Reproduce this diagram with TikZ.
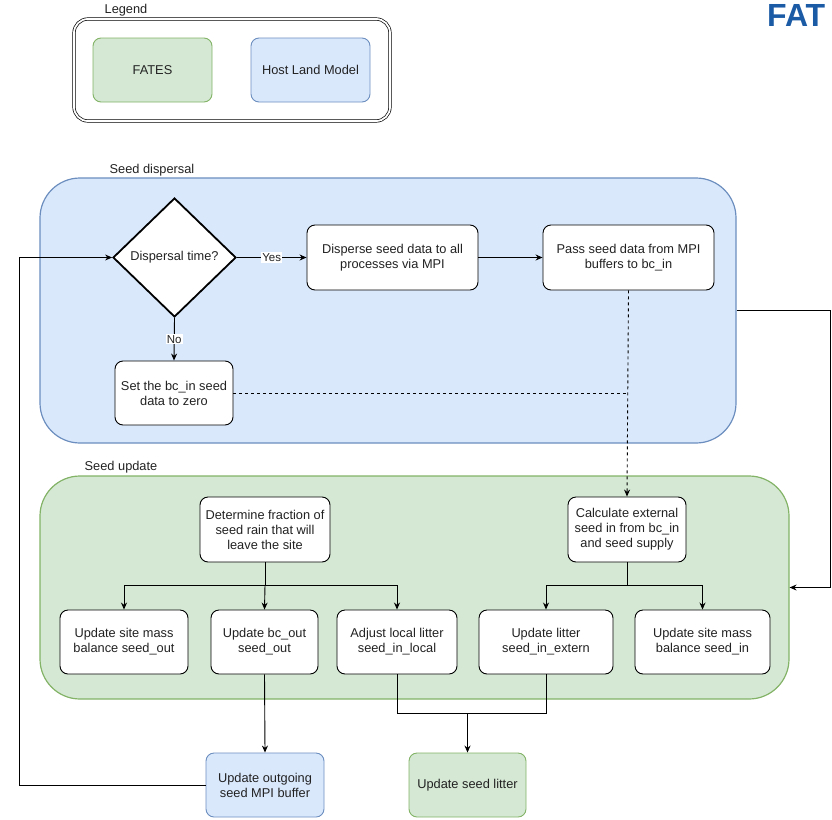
\documentclass[tikz,border=0pt]{standalone}
\usepackage{fontspec}
\setmainfont{Liberation Sans}
\usetikzlibrary{shapes.geometric,arrows.meta}
\definecolor{gfill}{HTML}{D5E8D4}
\definecolor{gline}{HTML}{82B366}
\definecolor{bfill}{HTML}{DAE8FC}
\definecolor{bline}{HTML}{6C8EBF}
\definecolor{fatesblue}{HTML}{1B5AA5}
\definecolor{txt}{HTML}{222222}
\begin{document}
\begin{tikzpicture}[x=1pt,y=-1pt,
  font=\fontsize{12.8}{15}\selectfont, text=txt,
  box/.style={draw=black, rounded corners=8pt, fill=white, align=center, line width=0.9pt, inner sep=0pt, minimum height=64pt},
  gbox/.style={box, draw=gline, fill=gfill},
  bbox/.style={box, draw=bline, fill=bfill},
  cont/.style={rounded corners=40pt, line width=1.2pt, inner sep=0pt},
  arr/.style={line width=0.9pt, -{Stealth[length=7pt,width=6pt]}},
  ln/.style={line width=0.9pt},
  lab/.style={fill=white, inner sep=1pt, font=\fontsize{11.5}{13}\selectfont}]
\useasboundingbox (0,0) rectangle (832,819);

% top-right clipped title
\node[anchor=base west, inner sep=0pt, text=fatesblue, font=\fontsize{32}{36}\bfseries] (fat) at (767,26) {FAT};

% legend
\node[anchor=center, inner sep=0pt] (legl) at (126,10) {Legend};
\node[draw=black, double, double distance=1.8pt, line width=0.7pt, rounded corners=14pt, minimum width=316pt, minimum height=102pt] (leg) at (232,70) {};
\node[gbox, minimum width=119pt] (lf) at (152.5,70) {FATES};
\node[bbox, minimum width=119pt] (lh) at (310.5,70) {Host Land Model};

% containers
\node[anchor=center, inner sep=0pt] (sdl) at (152,170) {Seed dispersal};
\node[cont, draw=bline, fill=bfill, minimum width=696pt, minimum height=265pt] (disp) at (388,310.5) {};
\node[anchor=center, inner sep=0pt] (sul) at (121,467) {Seed update};
\node[cont, draw=gline, fill=gfill, minimum width=749pt, minimum height=223pt] (upd) at (414.5,587.5) {};

% dispersal nodes
\node[diamond, draw=black, fill=white, line width=1.8pt, minimum width=123pt, minimum height=119pt, inner sep=0pt] (dia) at (174.5,257.5) {Dispersal time?};
\node[box, minimum width=171pt, minimum height=65pt] (dsp) at (392.5,257.5) {Disperse seed data to all\\processes via MPI};
\node[box, minimum width=171pt, minimum height=65pt] (pass) at (628.5,257.5) {Pass seed data from MPI\\buffers to bc\_in};
\node[box, minimum width=118pt] (set) at (174,393) {Set the bc\_in seed\\data to zero};

% update nodes
\node[box, minimum width=130pt, minimum height=65pt] (det) at (265,529.5) {Determine fraction of\\seed rain that will\\leave the site};
\node[box, minimum width=118pt, minimum height=65pt] (calc) at (627,529.5) {Calculate external\\seed in from bc\_in\\and seed supply};
\node[box, minimum width=128pt] (smout) at (124,642) {Update site mass\\balance seed\_out};
\node[box, minimum width=107pt] (bcout) at (264.5,642) {Update bc\_out\\seed\_out};
\node[box, minimum width=120pt] (local) at (397,642) {Adjust local litter\\seed\_in\_local};
\node[box, minimum width=134pt] (ext) at (546,642) {Update litter\\seed\_in\_extern};
\node[box, minimum width=135pt] (smin) at (702.5,642) {Update site mass\\balance seed\_in};

% outside nodes
\node[bbox, minimum width=118pt] (outg) at (265,785) {Update outgoing\\seed MPI buffer};
\node[gbox, minimum width=117pt] (litt) at (467.5,785) {Update seed litter};

% connectors: dispersal
\draw[arr] (dia.east) -- node[lab, pos=0.5] {Yes} (dsp.west);
\draw[arr] (dsp.east) -- (pass.west);
\draw[arr] (dia.south) -- node[lab, pos=0.5] {No} (set.north);
\draw[arr, dashed] (pass.south) -- (calc.north);
\draw[ln, dashed] (set.east) -- (set.east -| pass.south);

% connectors: update
\coordinate (jd) at (265,585);
\draw[ln] (det.south) -- (jd);
\draw[arr] (jd) -| (smout.north);
\draw[arr] (jd) -- (bcout.north);
\draw[arr] (jd) -| (local.north);
\coordinate (jc) at (627,585);
\draw[ln] (calc.south) -- (jc);
\draw[arr] (jc) -| (ext.north);
\draw[arr] (jc) -| (smin.north);
\draw[arr] (bcout.south) -- (outg.north);
\coordinate (jl) at (467.5,713);
\draw[ln] (local.south) |- (jl) -| (ext.south);
\draw[arr] (jl) -- (litt.north);

% loops
\coordinate (lp) at (19,785);
\draw[arr] (outg.west) -- (lp) |- (dia.west);
\coordinate (rp) at (830,310.5);
\draw[arr] (disp.east) -- (rp) |- (upd.east);
\end{tikzpicture}
\end{document}
